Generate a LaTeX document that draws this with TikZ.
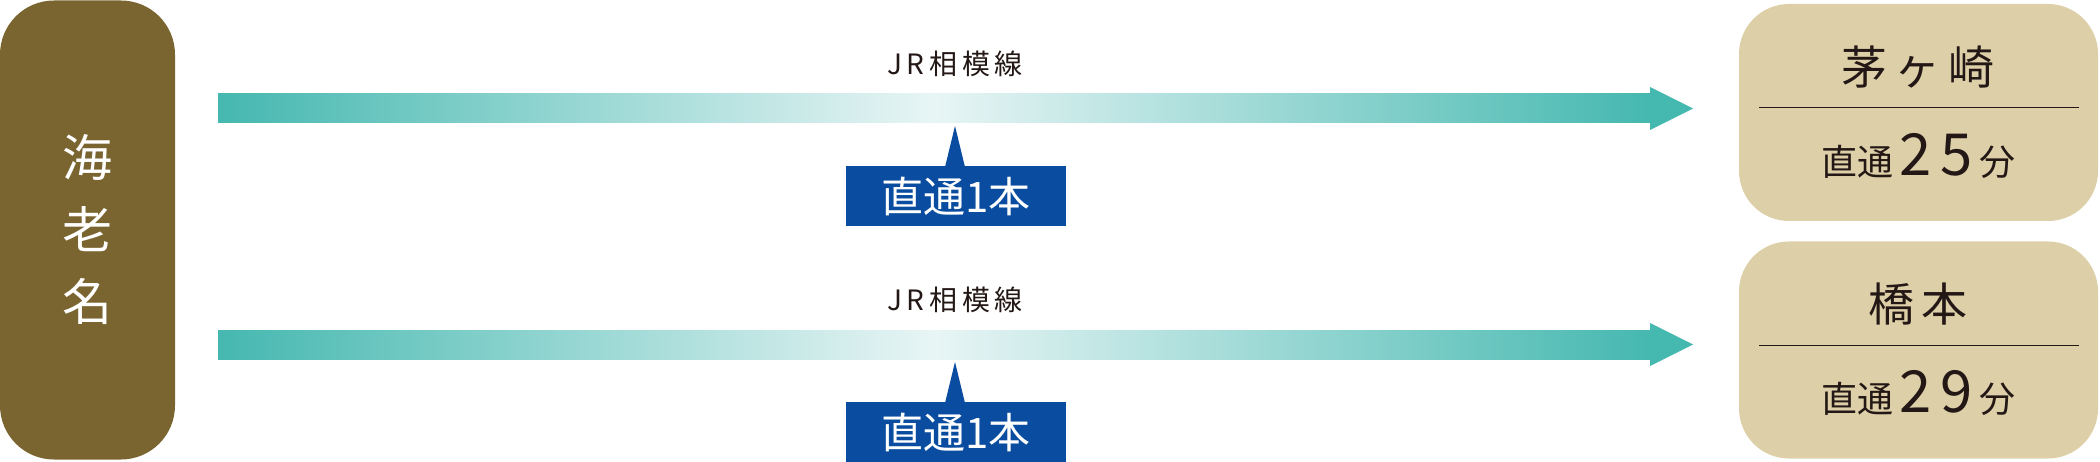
\documentclass[tikz,border=0pt]{standalone}
\usepackage{fontspec}
\newfontfamily\jp{Noto Sans CJK JP}
\usetikzlibrary{positioning}
\definecolor{stationbrown}{HTML}{7A6530}
\definecolor{sand}{HTML}{DDCFA8}
\definecolor{railteal}{HTML}{45B8B0}
\definecolor{pale}{HTML}{E8F5F5}
\definecolor{navy}{HTML}{0A4DA0}
\definecolor{ink}{HTML}{231815}

\begin{document}
\begin{tikzpicture}[x=1pt,y=-1pt,
    station/.style={rounded corners=50pt,fill=sand,minimum width=359pt,minimum height=217pt,inner sep=0pt},
    line label/.style={font=\jp\fontsize{28}{28}\selectfont,text=ink},
    count box/.style={fill=navy,text=white,minimum width=220pt,minimum height=60pt,inner sep=0pt,font=\jp\fontsize{42}{42}\selectfont}]
    \useasboundingbox (0,0) rectangle (2100,462);

    % origin station
    \node[fill=stationbrown,rounded corners=54pt,minimum width=175pt,minimum height=459pt,inner sep=0pt,
          text=white,align=center,font=\jp\fontsize{50}{72}\selectfont] (ebina) at (87.5,230) {海\\老\\名};

    % destinations
    \node[station] (chigasaki) at (1918.5,112.5) {};
    \node[station] (hashimoto) at (1918.5,350) {};
    \draw[ink,line width=1pt] (1759,108) -- (2079,108);
    \draw[ink,line width=1pt] (1759,345) -- (2079,345);
    \node[font=\jp\fontsize{46}{46}\selectfont,text=ink] (chigasaki title) at (1918,67) {茅\,ヶ\,崎};
    \node[font=\jp\fontsize{46}{46}\selectfont,text=ink] (hashimoto title) at (1918,304) {橋\,本};
    \node[text=ink] (chigasaki time) at (1918,156) {\jp\fontsize{36}{36}\selectfont 直通\,{\fontsize{58}{58}\selectfont 2\,5}\,分};
    \node[text=ink] (hashimoto time) at (1918,393) {\jp\fontsize{36}{36}\selectfont 直通\,{\fontsize{58}{58}\selectfont 2\,9}\,分};

    % arrows
    \foreach \y/\n in {0/a,236/b}{
        \shade[left color=railteal,right color=railteal,middle color=pale] (218,94+\y) rectangle (1651,123+\y);
        \fill[railteal] (1650,87+\y) -- (1693,108.5+\y) -- (1650,130+\y) -- cycle;
        \node[line label] (jr \n) at (955,64+\y) {J\,R\,相\,模\,線};
        \node[count box] (count \n) at (956,196+\y) {直通1本};
        \fill[navy] (945,167+\y) -- (955,126+\y) -- (965,167+\y) -- cycle;
    }
\end{tikzpicture}
\end{document}
